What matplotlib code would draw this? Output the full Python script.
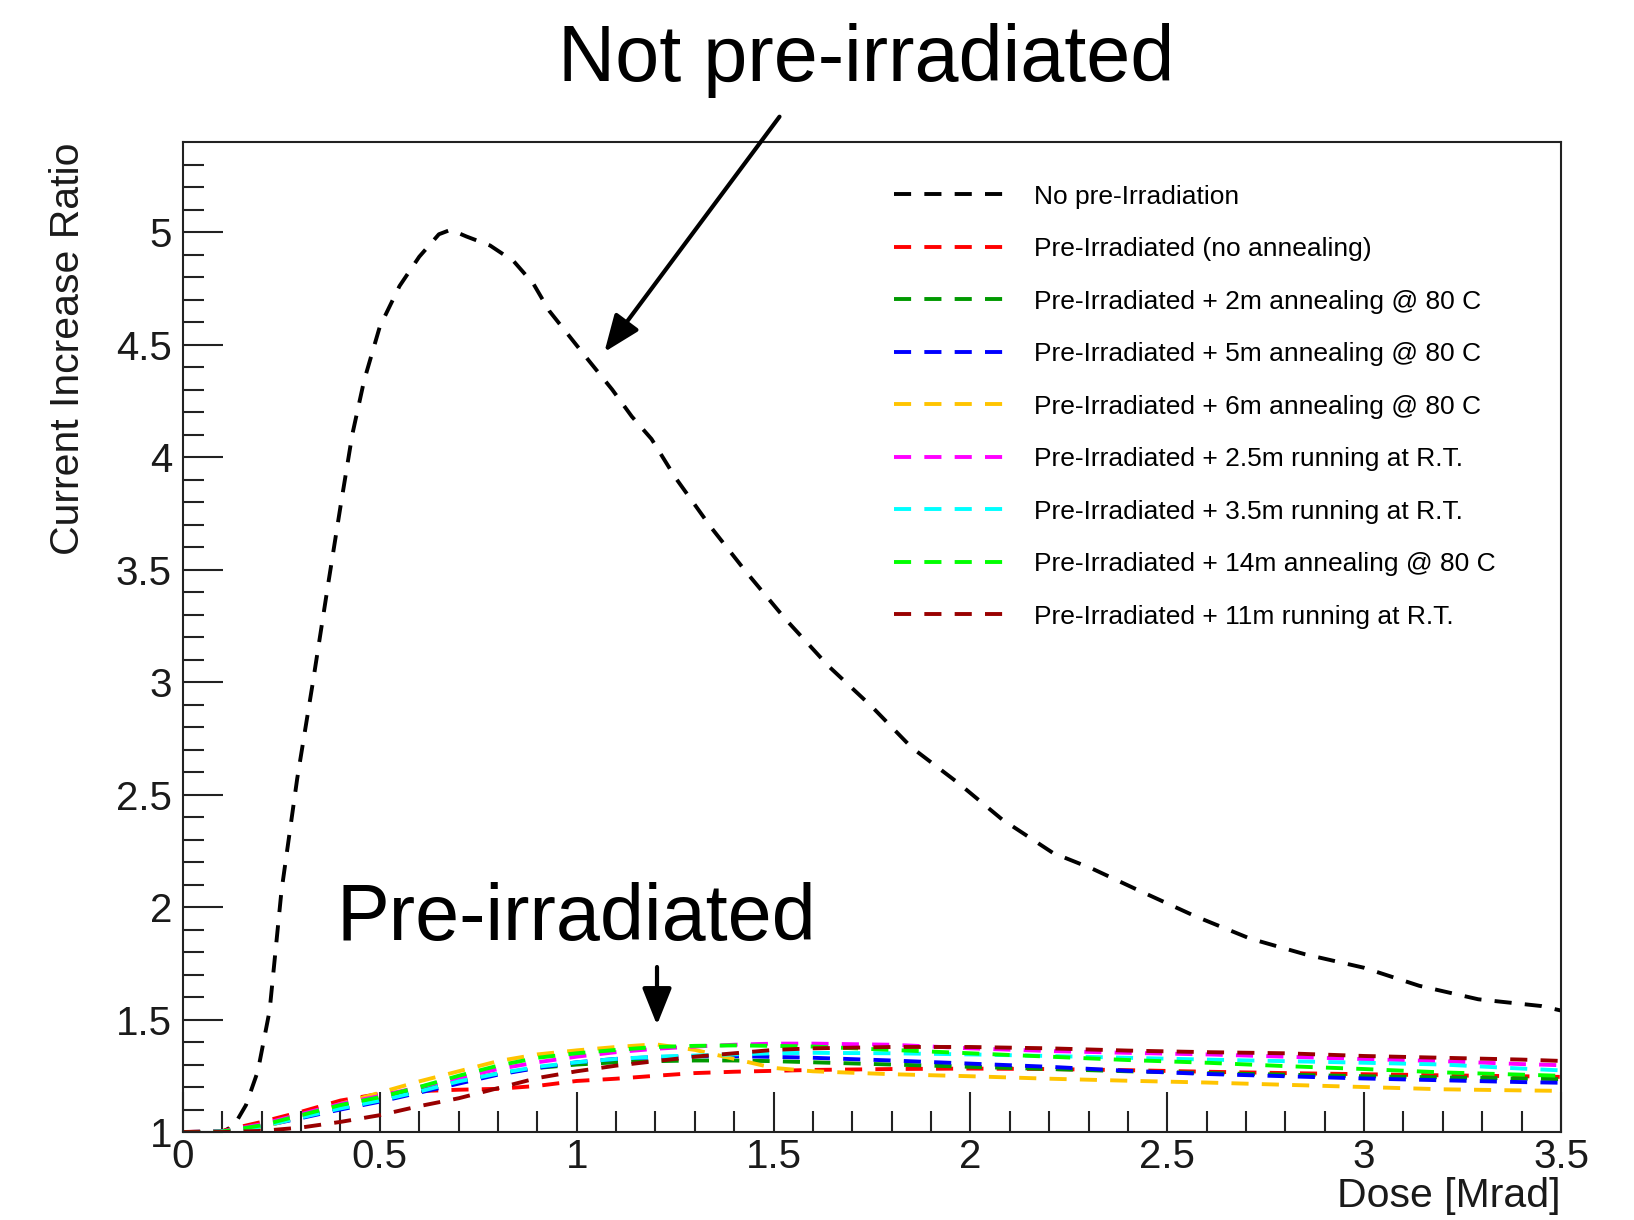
import matplotlib
matplotlib.use('Agg')
import matplotlib.pyplot as plt
import numpy as np

plt.rcParams['font.family'] = ['Liberation Sans', 'DejaVu Sans']

# Dose points [Mrad] and current increase ratio, no pre-irradiation
dose_ref = [0, 0.05, 0.1, 0.13, 0.16, 0.19, 0.22, 0.25, 0.29, 0.33, 0.37, 0.40,
            0.43, 0.46, 0.50, 0.55, 0.60, 0.65, 0.68, 0.72, 0.78, 0.84, 0.89,
            0.93, 0.98, 1.03, 1.09, 1.14, 1.19, 1.25, 1.34, 1.43, 1.53, 1.64,
            1.75, 1.85, 1.97, 2.08, 2.21, 2.31, 2.42, 2.57, 2.71, 2.85, 3.00,
            3.14, 3.29, 3.45, 3.50]
ratio_ref = [1.0, 1.0, 1.0, 1.03, 1.12, 1.27, 1.54, 2.07, 2.57, 3.0, 3.45, 3.78,
             4.1, 4.34, 4.58, 4.76, 4.89, 4.99, 5.01, 4.98, 4.94, 4.87, 4.77,
             4.65, 4.54, 4.43, 4.30, 4.18, 4.08, 3.91, 3.69, 3.49, 3.28, 3.07,
             2.89, 2.71, 2.55, 2.39, 2.24, 2.17, 2.08, 1.96, 1.86, 1.79, 1.73,
             1.65, 1.59, 1.56, 1.54]

# Pre-irradiated samples
dose = [0, 0.1, 0.2, 0.3, 0.4, 0.5, 0.6, 0.7, 0.8, 0.9, 1.0, 1.1, 1.2, 1.3,
        1.4, 1.5, 1.6, 1.8, 2.0, 2.2, 2.4, 2.6, 2.8, 3.0, 3.2, 3.4, 3.5]
pre_no_anneal = [1.0, 1.005, 1.045, 1.09, 1.14, 1.17, 1.182, 1.188, 1.192, 1.205,
                 1.227, 1.237, 1.25, 1.262, 1.268, 1.272, 1.276, 1.28, 1.282,
                 1.28, 1.275, 1.268, 1.262, 1.257, 1.252, 1.248, 1.245]
pre_2m_80 = [1.0, 1.002, 1.028, 1.07, 1.11, 1.145, 1.185, 1.225, 1.26, 1.285,
             1.3, 1.31, 1.315, 1.318, 1.318, 1.315, 1.31, 1.3, 1.29, 1.28,
             1.27, 1.262, 1.255, 1.248, 1.243, 1.238, 1.235]
pre_5m_80 = [1.0, 1.002, 1.025, 1.062, 1.1, 1.135, 1.175, 1.215, 1.255, 1.285,
             1.31, 1.325, 1.333, 1.337, 1.337, 1.334, 1.33, 1.318, 1.304, 1.29,
             1.272, 1.258, 1.248, 1.238, 1.23, 1.222, 1.219]
pre_6m_80 = [1.0, 1.0, 1.02, 1.07, 1.125, 1.175, 1.225, 1.27, 1.315, 1.345,
             1.363, 1.378, 1.39, 1.365, 1.325, 1.285, 1.27, 1.257, 1.248, 1.237,
             1.228, 1.22, 1.21, 1.2, 1.19, 1.185, 1.183]
pre_2p5m_rt = [1.0, 1.003, 1.035, 1.08, 1.125, 1.16, 1.2, 1.24, 1.28, 1.31,
               1.335, 1.355, 1.37, 1.38, 1.388, 1.393, 1.393, 1.388, 1.372,
               1.36, 1.352, 1.345, 1.335, 1.324, 1.315, 1.302, 1.297]
pre_3p5m_rt = [1.0, 1.002, 1.025, 1.065, 1.105, 1.14, 1.18, 1.225, 1.26, 1.29,
               1.31, 1.325, 1.335, 1.34, 1.345, 1.35, 1.352, 1.35, 1.345, 1.338,
               1.33, 1.322, 1.315, 1.308, 1.3, 1.282, 1.274]
pre_14m_80 = [1.0, 1.002, 1.03, 1.075, 1.12, 1.155, 1.2, 1.25, 1.295, 1.33,
              1.35, 1.365, 1.378, 1.383, 1.385, 1.383, 1.38, 1.365, 1.35, 1.335,
              1.32, 1.308, 1.293, 1.28, 1.265, 1.255, 1.25]
pre_11m_rt = [1.0, 1.0, 1.005, 1.02, 1.045, 1.075, 1.115, 1.15, 1.195, 1.24,
              1.27, 1.295, 1.315, 1.335, 1.35, 1.365, 1.372, 1.378, 1.378,
              1.372, 1.362, 1.355, 1.35, 1.338, 1.33, 1.322, 1.316]

labels = ['No pre-Irradiation',
          'Pre-Irradiated (no annealing)',
          'Pre-Irradiated + 2m annealing @ 80 C',
          'Pre-Irradiated + 5m annealing @ 80 C',
          'Pre-Irradiated + 6m annealing @ 80 C',
          'Pre-Irradiated + 2.5m running at R.T.',
          'Pre-Irradiated + 3.5m running at R.T.',
          'Pre-Irradiated + 14m annealing @ 80 C',
          'Pre-Irradiated + 11m running at R.T.']
colors = ['black', '#ff0000', '#009900', '#0000ff', '#ffc400',
          '#ff00ff', '#00ffff', '#00ff00', '#990000']
series = [pre_no_anneal, pre_2m_80, pre_5m_80, pre_6m_80,
          pre_2p5m_rt, pre_3p5m_rt, pre_14m_80, pre_11m_rt]

fig = plt.figure(figsize=(16.34, 12.2), dpi=100)
ax = fig.add_axes([0.112, 0.0721, 0.8433, 0.8115])

lw = 2.8
dash = (4.4, 3.4)
ax.plot(dose_ref, ratio_ref, color=colors[0], lw=lw, dashes=dash, label=labels[0])
for y, c, lab in zip(series, colors[1:], labels[1:]):
    ax.plot(dose, y, color=c, lw=lw, dashes=dash, label=lab)

ax.set_xlim(0, 3.5)
ax.set_ylim(1, 5.4)
ax.set_xticks(np.arange(0, 3.51, 0.5))
ax.set_xticklabels(['0', '0.5', '1', '1.5', '2', '2.5', '3', '3.5'])
ax.set_yticks(np.arange(1, 5.01, 0.5))
ax.set_yticklabels(['1', '1.5', '2', '2.5', '3', '3.5', '4', '4.5', '5'])
ax.set_xticks(np.arange(0, 3.5, 0.1), minor=True)
ax.set_yticks(np.arange(1, 5.4, 0.1), minor=True)
ax.tick_params(which='both', direction='in', top=False, right=False,
               width=1.5, color='#222222', labelcolor='#1a1a1a')
ax.tick_params(which='major', length=28.5, labelsize=29)
ax.tick_params(axis='y', which='major', pad=8)
ax.tick_params(axis='x', which='major', pad=4)
ax.tick_params(which='minor', length=15)
for s in ax.spines.values():
    s.set_linewidth(1.5)
    s.set_color('#222222')

ax.set_ylabel('Current Increase Ratio', fontsize=29.5, loc='top', color='#1a1a1a')
ax.yaxis.set_label_coords(-0.07, 1.0)
ax.set_xlabel('Dose [Mrad]', fontsize=29.5, loc='right', color='#1a1a1a')
ax.xaxis.set_label_coords(1.0, -0.045)

ax.legend(loc='upper left', bbox_to_anchor=(0.516, 0.957), frameon=False,
          fontsize=19, handlelength=4.5, handletextpad=0.82, labelspacing=1.08,
          borderpad=0, borderaxespad=0)

# annotations
fig.text(0.530, 0.9336, 'Not pre-irradiated', fontsize=57, ha='center', va='baseline')
fig.text(0.3528, 0.2295, 'Pre-irradiated', fontsize=57, ha='center', va='baseline')
arrow = dict(arrowstyle='-|>,head_length=0.75,head_width=0.3', lw=3,
             color='black', mutation_scale=30, shrinkA=0, shrinkB=0)
ax.annotate('', xy=(604.4 / 1634, 1 - 352 / 1220), xytext=(779.5 / 1634, 1 - 116.7 / 1220),
            xycoords='figure fraction', textcoords='figure fraction',
            arrowprops=arrow, annotation_clip=False)
ax.annotate('', xy=(657 / 1634, 1 - 1025 / 1220), xytext=(657 / 1634, 1 - 967 / 1220),
            xycoords='figure fraction', textcoords='figure fraction',
            arrowprops=arrow, annotation_clip=False)

plt.savefig('out.png', dpi=100)
